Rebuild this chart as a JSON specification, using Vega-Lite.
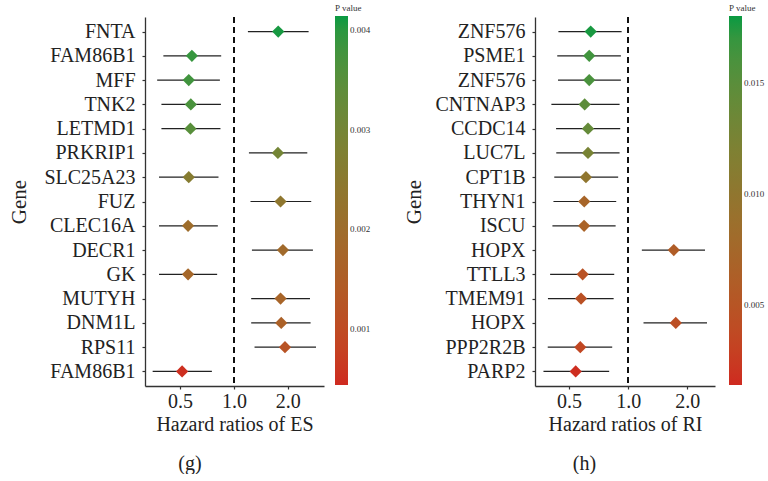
{
  "$schema": "https://vega.github.io/schema/vega-lite/v6.json",
  "padding": {"left": 8, "top": 4, "right": 0, "bottom": 0},
  "background": "white",
  "spacing": 32,
  "config": {
    "view": {"stroke": null},
    "font": "Liberation Serif",
    "axis": {
      "grid": false,
      "domainColor": "#333333",
      "domainWidth": 1.3,
      "tickColor": "#333333",
      "tickWidth": 1.2,
      "tickSize": 3,
      "labelFont": "Liberation Serif",
      "titleFont": "Liberation Serif",
      "labelColor": "#222222",
      "titleColor": "#222222",
      "titleFontWeight": "normal",
      "labelFontSize": 20,
      "titleFontSize": 20
    },
    "legend": {
      "labelFont": "Liberation Serif",
      "titleFont": "Liberation Serif",
      "titleFontWeight": "normal",
      "titleFontSize": 9,
      "labelFontSize": 9,
      "titleColor": "#333333",
      "labelColor": "#333333",
      "gradientLength": 369,
      "gradientThickness": 13,
      "gradientStrokeWidth": 0,
      "titlePadding": 3,
      "labelOffset": 4
    },
    "title": {"font": "Liberation Serif", "fontSize": 20, "fontWeight": "normal", "color": "#222222"}
  },
  "datasets": {
    "g": [
      {"gene": "FNTA", "hr": 1.771, "lo": 1.198, "hi": 2.62, "p": 0.0041},
      {"gene": "FAM86B1", "hr": 0.582, "lo": 0.403, "hi": 0.849, "p": 0.0039},
      {"gene": "MFF", "hr": 0.559, "lo": 0.372, "hi": 0.835, "p": 0.0038},
      {"gene": "TNK2", "hr": 0.574, "lo": 0.393, "hi": 0.846, "p": 0.0037},
      {"gene": "LETMD1", "hr": 0.571, "lo": 0.393, "hi": 0.841, "p": 0.0035},
      {"gene": "PRKRIP1", "hr": 1.764, "lo": 1.214, "hi": 2.576, "p": 0.003},
      {"gene": "SLC25A23", "hr": 0.559, "lo": 0.381, "hi": 0.82, "p": 0.0026},
      {"gene": "FUZ", "hr": 1.825, "lo": 1.239, "hi": 2.71, "p": 0.0024},
      {"gene": "CLEC16A", "hr": 0.554, "lo": 0.381, "hi": 0.813, "p": 0.002},
      {"gene": "DECR1", "hr": 1.882, "lo": 1.262, "hi": 2.77, "p": 0.0019},
      {"gene": "GK", "hr": 0.554, "lo": 0.381, "hi": 0.806, "p": 0.0018},
      {"gene": "MUTYH", "hr": 1.825, "lo": 1.25, "hi": 2.667, "p": 0.0017},
      {"gene": "DNM1L", "hr": 1.841, "lo": 1.25, "hi": 2.688, "p": 0.0016},
      {"gene": "RPS11", "hr": 1.932, "lo": 1.305, "hi": 2.882, "p": 0.0012},
      {"gene": "FAM86B1\u200b", "hr": 0.513, "lo": 0.351, "hi": 0.753, "p": 0.0005}
    ],
    "h": [
      {"gene": "ZNF576", "hr": 0.644, "lo": 0.441, "hi": 0.926, "p": 0.0178},
      {"gene": "PSME1", "hr": 0.633, "lo": 0.435, "hi": 0.918, "p": 0.0165},
      {"gene": "ZNF576\u200b", "hr": 0.633, "lo": 0.439, "hi": 0.918, "p": 0.016},
      {"gene": "CNTNAP3", "hr": 0.6, "lo": 0.406, "hi": 0.904, "p": 0.0148},
      {"gene": "CCDC14", "hr": 0.624, "lo": 0.429, "hi": 0.911, "p": 0.0142},
      {"gene": "LUC7L", "hr": 0.624, "lo": 0.43, "hi": 0.904, "p": 0.0125},
      {"gene": "CPT1B", "hr": 0.609, "lo": 0.42, "hi": 0.889, "p": 0.01},
      {"gene": "THYN1", "hr": 0.597, "lo": 0.416, "hi": 0.869, "p": 0.0072},
      {"gene": "ISCU", "hr": 0.596, "lo": 0.411, "hi": 0.863, "p": 0.0068},
      {"gene": "HOPX", "hr": 1.708, "lo": 1.174, "hi": 2.464, "p": 0.006},
      {"gene": "TTLL3", "hr": 0.586, "lo": 0.4, "hi": 0.849, "p": 0.0047},
      {"gene": "TMEM91", "hr": 0.575, "lo": 0.39, "hi": 0.843, "p": 0.0045},
      {"gene": "HOPX\u200b", "hr": 1.748, "lo": 1.197, "hi": 2.522, "p": 0.0043},
      {"gene": "PPP2R2B", "hr": 0.57, "lo": 0.389, "hi": 0.829, "p": 0.0035},
      {"gene": "PARP2", "hr": 0.54, "lo": 0.37, "hi": 0.8, "p": 0.0016}
    ]
  },
  "resolve": {"scale": {"color": "independent", "x": "independent", "y": "independent"}, "legend": {"color": "independent"}},
  "hconcat": [
    {
      "width": 179,
      "height": 369,
      "data": {"name": "g"},
      "title": {"text": "(g)", "orient": "bottom", "anchor": "middle", "frame": "bounds", "offset": 20},
      "layer": [
        {
          "mark": {"type": "rule", "strokeDash": [6, 4], "color": "#111111", "strokeWidth": 1.2},
          "encoding": {"x": {"datum": 1, "type": "quantitative"}}
        },
        {
          "mark": {"type": "rule", "color": "#222222", "strokeWidth": 1.2},
          "encoding": {
            "x": {"field": "lo", "type": "quantitative", "scale": {"type": "log", "domain": [0.318, 3.195], "nice": false}, "axis": {"values": [0.5, 1, 2], "format": ".1f", "title": "Hazard ratios of ES", "labelPadding": 2, "titlePadding": 3}},
            "x2": {"field": "hi"},
            "y": {"field": "gene", "type": "nominal", "sort": null, "scale": {"type": "point", "padding": 0.6}, "axis": {"title": "Gene", "titleFontSize": 21, "labelPadding": 7, "titlePadding": 14}}
          }
        },
        {
          "mark": {"type": "point", "shape": "diamond", "filled": true, "opacity": 1, "size": 150},
          "encoding": {
            "x": {"field": "hr", "type": "quantitative"},
            "y": {"field": "gene", "type": "nominal", "sort": null},
            "color": {"field": "p", "type": "quantitative", "scale": {"type": "linear", "domain": [0.00044, 0.00414], "range": ["#cf2a20", "#0a9a42"], "interpolate": "lab"}, "legend": {"title": "P value", "orient": "none", "legendX": 190, "legendY": -13, "values": [0.001, 0.002, 0.003, 0.004], "format": ".3f"}}
          }
        }
      ]
    },
    {
      "width": 180,
      "height": 369,
      "data": {"name": "h"},
      "title": {"text": "(h)", "orient": "bottom", "anchor": "middle", "frame": "bounds", "offset": 20},
      "layer": [
        {
          "mark": {"type": "rule", "strokeDash": [6, 4], "color": "#111111", "strokeWidth": 1.2},
          "encoding": {"x": {"datum": 1, "type": "quantitative"}}
        },
        {
          "mark": {"type": "rule", "color": "#222222", "strokeWidth": 1.2},
          "encoding": {
            "x": {"field": "lo", "type": "quantitative", "scale": {"type": "log", "domain": [0.335, 2.77], "nice": false}, "axis": {"values": [0.5, 1, 2], "format": ".1f", "title": "Hazard ratios of RI", "labelPadding": 2, "titlePadding": 3}},
            "x2": {"field": "hi"},
            "y": {"field": "gene", "type": "nominal", "sort": null, "scale": {"type": "point", "padding": 0.6}, "axis": {"title": "Gene", "titleFontSize": 21, "labelPadding": 7, "titlePadding": 10}}
          }
        },
        {
          "mark": {"type": "point", "shape": "diamond", "filled": true, "opacity": 1, "size": 150},
          "encoding": {
            "x": {"field": "hr", "type": "quantitative"},
            "y": {"field": "gene", "type": "nominal", "sort": null},
            "color": {"field": "p", "type": "quantitative", "scale": {"type": "linear", "domain": [0.0014, 0.018], "range": ["#cf2a20", "#0a9a42"], "interpolate": "lab"}, "legend": {"title": "P value", "orient": "none", "legendX": 194, "legendY": -13, "values": [0.005, 0.01, 0.015], "format": ".3f"}}
          }
        }
      ]
    }
  ]
}
